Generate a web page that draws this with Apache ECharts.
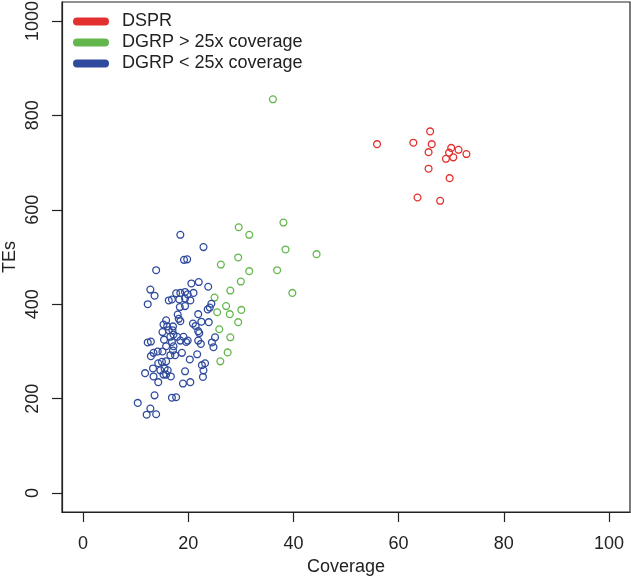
<!DOCTYPE html>
<html>
<head>
<meta charset="utf-8">
<script src="https://cdn.jsdelivr.net/npm/echarts@6/dist/echarts.min.js"></script>
<style>
html,body{margin:0;padding:0;background:#fff;}
#c{width:631px;height:578px;}
</style>
</head>
<body>
<div id="c"></div>
<script>
// ---- data ----
var seriesNames = ['DSPR', 'DGRP > 25x coverage', 'DGRP < 25x coverage'];
var xTicks = [0, 20, 40, 60, 80, 100];
var yTicks = [0, 200, 400, 600, 800, 1000];

var dsprCoverage = [66.0, 62.8, 66.3, 65.7, 70.0, 69.6, 71.4, 72.9, 69.0, 70.4, 65.7, 69.7, 63.6, 67.9, 55.9];
var dsprTEs      = [766, 742, 739, 722, 731, 721, 727, 718, 708, 711, 687, 667, 626, 619, 739];

var hiCoverage = [36.1, 38.1, 29.6, 31.6, 38.5, 44.4, 29.5, 26.2, 31.6, 36.9, 30.0, 28.0, 39.8, 25.0, 27.2, 25.5, 27.9, 30.1, 29.5, 25.9, 28.0, 27.5, 26.1];
var hiTEs      = [834, 573, 563, 547, 516, 506, 499, 484, 470, 472, 448, 429, 424, 414, 396, 383, 379, 388, 362, 347, 330, 298, 279];

var loCoverage = [18.5, 22.9, 19.2, 19.8, 13.9, 12.8, 13.6, 12.3, 20.6, 22.0, 23.8, 17.7, 18.5, 19.4, 19.9, 21.0, 16.3, 16.9, 18.3, 19.4,
                  20.4, 18.4, 19.4, 24.4, 24.1, 23.7, 21.9, 18.2, 18.5, 15.8, 15.3, 16.0, 17.1, 20.9, 21.4, 22.5, 23.9, 15.1, 16.3, 17.0,
                  17.2, 21.9, 22.1, 16.6, 17.9, 19.1, 15.4, 25.1, 24.5, 24.8, 12.3, 12.9, 16.9, 18.5, 19.6, 19.9, 21.9, 22.4, 15.8, 17.2,
                  14.2, 15.1, 17.1, 16.6, 17.5, 18.8, 13.4, 12.9, 21.7, 20.3, 14.3, 15.0, 15.8, 23.2, 22.6, 22.9, 22.8, 13.3, 14.7, 15.5,
                  16.1, 11.8, 15.3, 15.8, 16.7, 19.4, 13.4, 14.3, 19.0, 20.4, 13.6, 16.9, 17.7, 10.4, 12.8, 12.1, 13.9, 18.0];
var loTEs      = [547, 521, 494, 495, 472, 431, 418, 400, 444, 447, 437, 423, 424, 426, 421, 424, 408, 410, 410, 412,
                  408, 394, 396, 401, 393, 389, 379, 369, 364, 366, 357, 353, 353, 359, 354, 363, 362, 341, 345, 345,
                  336, 343, 339, 331, 331, 331, 325, 330, 319, 309, 319, 321, 320, 323, 320, 323, 323, 316, 311, 311,
                  300, 300, 302, 292, 292, 297, 297, 290, 294, 283, 275, 278, 279, 275, 271, 260, 246, 264, 260, 264,
                  260, 254, 251, 251, 247, 258, 247, 235, 232, 235, 207, 202, 203, 191, 179, 166, 167, 378];

var colors = ['#e3302e', '#64b74c', '#2f4b9d'];

function zip(a, b) { var r = []; for (var i = 0; i < a.length; i++) r.push([a[i], b[i]]); return r; }

var font = '"Liberation Sans", Arial, Helvetica, sans-serif';
var textColor = '#222';
var barIcon = 'path://M4,0H32A4,4,0,0,1,32,8H4A4,4,0,0,1,4,0Z';

function scatter(name, data, color) {
  return {
    name: name, type: 'scatter', data: data,
    symbol: 'circle', symbolSize: 6.8,
    itemStyle: { color: 'rgba(255,255,255,0)', borderColor: color, borderWidth: 1.3, opacity: 1 },
    emphasis: { disabled: true },
    animation: false
  };
}

var chart = echarts.init(document.getElementById('c'), null, { renderer: 'canvas' });
chart.setOption({
  animation: false,
  backgroundColor: '#fff',
  grid: { left: 62, right: 1, top: 2, bottom: 66, show: true, borderColor: '#222', borderWidth: 1.2,
          backgroundColor: 'transparent', containLabel: false, outerBoundsMode: 'none' },
  legend: {
    orient: 'vertical', left: 73, top: 12, padding: 0, itemGap: 2,
    itemWidth: 36, itemHeight: 8,
    textStyle: { fontFamily: font, fontSize: 18, color: textColor, lineHeight: 19, padding: [0, 0, 0, 8] },
    data: seriesNames.map(function (n, i) {
      return { name: n, icon: barIcon, itemStyle: { color: colors[i], borderWidth: 0, opacity: 1 } };
    }),
    selectedMode: false
  },
  xAxis: {
    type: 'value', min: -4, max: 104,
    name: 'Coverage', nameLocation: 'middle', nameGap: 46, nameMoveOverlap: false,
    nameTextStyle: { fontFamily: font, fontSize: 18, color: textColor },
    axisLine: { show: true, onZero: false, lineStyle: { color: '#222', width: 1.2 } },
    axisTick: { show: true, length: 10, lineStyle: { color: '#222', width: 1.2 }, customValues: xTicks },
    axisLabel: { fontFamily: font, fontSize: 18, color: textColor, margin: 23, customValues: xTicks,
                 formatter: function (v) { return String(v); } },
    splitLine: { show: false }
  },
  yAxis: {
    type: 'value', min: -40, max: 1040,
    name: 'TEs', nameLocation: 'middle', nameGap: 43, nameRotate: 90, nameMoveOverlap: false,
    nameTextStyle: { fontFamily: font, fontSize: 18, color: textColor },
    axisLine: { show: true, onZero: false, lineStyle: { color: '#222', width: 1.2 } },
    axisTick: { show: true, length: 10, lineStyle: { color: '#222', width: 1.2 }, customValues: yTicks },
    axisLabel: { fontFamily: font, fontSize: 18, color: textColor, margin: 20, rotate: 90, customValues: yTicks,
                 formatter: function (v) { return String(v); } },
    splitLine: { show: false }
  },
  series: [
    scatter(seriesNames[0], zip(dsprCoverage, dsprTEs), colors[0]),
    scatter(seriesNames[1], zip(hiCoverage, hiTEs), colors[1]),
    scatter(seriesNames[2], zip(loCoverage, loTEs), colors[2])
  ]
});
</script>
</body>
</html>
